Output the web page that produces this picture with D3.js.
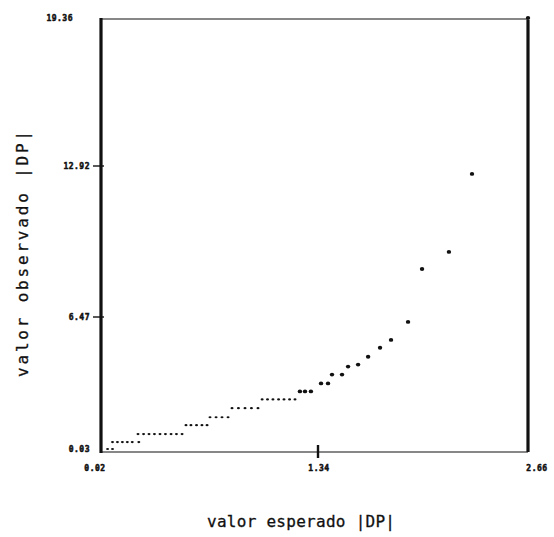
<!DOCTYPE html>
<html>
<head>
<meta charset="utf-8">
<script src="https://cdn.jsdelivr.net/npm/d3@7/dist/d3.min.js"></script>
<style>
  html, body { margin: 0; padding: 0; background: #fff; }
  svg { display: block; }
</style>
</head>
<body>
<script>
// Observed vs expected |DP| values (probability plot)
const expected = [
  0.06, 0.09,
  0.09, 0.12, 0.15, 0.18, 0.21, 0.25,
  0.245, 0.279, 0.312, 0.345, 0.379, 0.412, 0.446, 0.479, 0.513,
  0.537, 0.567, 0.601, 0.634, 0.665,
  0.683, 0.720, 0.756, 0.793,
  0.817, 0.856, 0.896, 0.935, 0.975,
  1.000, 1.033, 1.066, 1.100, 1.133, 1.167, 1.200,
  1.230, 1.261, 1.297,
  1.359, 1.403,
  1.428, 1.491,
  1.529, 1.592,
  1.655, 1.730, 1.799, 1.906, 1.994, 2.163, 2.308, 2.66
];
const observed = [
  0.03, 0.03,
  0.37, 0.37, 0.37, 0.37, 0.37, 0.37,
  0.76, 0.76, 0.76, 0.76, 0.76, 0.76, 0.76, 0.76, 0.76,
  1.19, 1.19, 1.19, 1.19, 1.19,
  1.58, 1.58, 1.58, 1.58,
  2.02, 2.02, 2.02, 2.02, 2.02,
  2.45, 2.45, 2.45, 2.45, 2.45, 2.45, 2.45,
  2.84, 2.84, 2.84,
  3.23, 3.23,
  3.66, 3.66,
  4.05, 4.15,
  4.53, 4.97, 5.35, 6.23, 8.52, 9.25, 12.58, 19.36
];
const xTicks = [0.02, 1.34, 2.66];
const xTickLabels = ["0.02", "1.34", "2.66"];
const yTicks = [0.03, 6.47, 12.92, 19.36];
const yTickLabels = ["0.03", "6.47", "12.92", "19.36"];

const W = 554, H = 537;
const frameL = 101, frameR = 528, frameT = 18, frameB = 452;

const svg = d3.select("body").append("svg")
  .attr("width", W).attr("height", H);

// piecewise scales follow the printed tick positions
const x = d3.scaleLinear().domain(xTicks).range([frameL, 318, frameR]);
const y = d3.scaleLinear().domain(yTicks).range([449, 317, 166, frameT]);

const ink = "#111";

// frame: heavy verticals, light horizontals
svg.append("line").attr("x1", frameL).attr("x2", frameR).attr("y1", frameT + 1).attr("y2", frameT + 1)
  .attr("stroke", ink).attr("stroke-width", 1.2);
svg.append("line").attr("x1", frameL).attr("x2", frameR).attr("y1", frameB).attr("y2", frameB)
  .attr("stroke", ink).attr("stroke-width", 1.2);
svg.append("line").attr("x1", frameL).attr("x2", frameL).attr("y1", frameT).attr("y2", frameB + 1)
  .attr("stroke", ink).attr("stroke-width", 3.2);
svg.append("line").attr("x1", frameR).attr("x2", frameR).attr("y1", frameT + 2).attr("y2", frameB)
  .attr("stroke", ink).attr("stroke-width", 3.2);

const tickFont = "'DejaVu Sans Mono', monospace";

// y ticks
const yt = svg.append("g");
yt.selectAll("line").data(yTicks.slice(1, 3)).join("line")
  .attr("x1", frameL - 8).attr("x2", frameL + 3)
  .attr("y1", d => y(d)).attr("y2", d => y(d))
  .attr("stroke", ink).attr("stroke-width", 1.4);
yt.selectAll("text").data(yTicks).join("text")
  .attr("x", (d, i) => i === 3 ? frameL - 28 : frameL - 11)
  .attr("y", d => y(d))
  .attr("dy", "0.35em")
  .attr("text-anchor", "end")
  .attr("font-family", tickFont).attr("font-weight", "bold")
  .attr("font-size", 8).attr("letter-spacing", 0.5)
  .attr("fill", ink).attr("stroke", ink).attr("stroke-width", 0.5)
  .text((d, i) => yTickLabels[i]);

// x ticks
const xt = svg.append("g");
xt.append("line")
  .attr("x1", x(xTicks[1])).attr("x2", x(xTicks[1]))
  .attr("y1", frameB - 7).attr("y2", frameB + 6)
  .attr("stroke", ink).attr("stroke-width", 2.4);
xt.selectAll("text").data(xTicks).join("text")
  .attr("x", (d, i) => x(d) + [-6, 1, 9][i])
  .attr("y", frameB + 19)
  .attr("text-anchor", "middle")
  .attr("font-family", tickFont).attr("font-weight", "bold")
  .attr("font-size", 8).attr("letter-spacing", 0.5)
  .attr("fill", ink).attr("stroke", ink).attr("stroke-width", 0.5)
  .text((d, i) => xTickLabels[i]);

// points; tied runs are printed as small dots
const pts = expected.map((e, i) => ({ e, o: observed[i] }));
const tied = (i) => (i > 0 && observed[i - 1] === observed[i]) ||
                    (i < observed.length - 1 && observed[i + 1] === observed[i]);
svg.append("g").selectAll("ellipse").data(pts).join("ellipse")
  .attr("cx", d => x(d.e))
  .attr("cy", d => y(d.o))
  .attr("rx", (d, i) => tied(i) && d.o < 2.6 ? 1.5 : 2.2)
  .attr("ry", (d, i) => tied(i) && d.o < 2.6 ? 1.1 : 1.9)
  .attr("fill", ink);

// axis titles
const titleFont = "'DejaVu Sans Mono', monospace";
svg.append("text")
  .attr("x", 301).attr("y", 527)
  .attr("text-anchor", "middle")
  .attr("font-family", titleFont).attr("font-size", 16)
  .attr("fill", ink).attr("stroke", ink).attr("stroke-width", 0.3)
  .attr("textLength", 188).attr("lengthAdjust", "spacing")
  .text("valor esperado |DP|");
svg.append("text")
  .attr("transform", "translate(28,254) rotate(-90)")
  .attr("text-anchor", "middle")
  .attr("font-family", titleFont).attr("font-size", 16)
  .attr("fill", ink).attr("stroke", ink).attr("stroke-width", 0.3)
  .attr("textLength", 246).attr("lengthAdjust", "spacing")
  .text("valor observado |DP|");
</script>
</body>
</html>
